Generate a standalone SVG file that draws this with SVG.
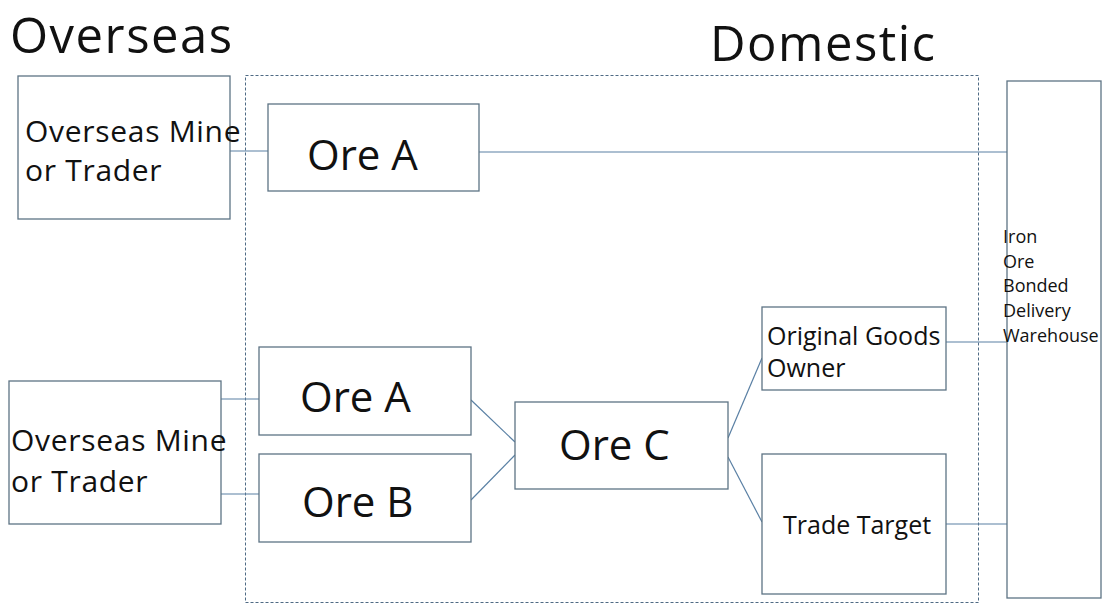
<svg xmlns="http://www.w3.org/2000/svg" width="1113" height="608" viewBox="0 0 1113 608">
  <style>
    .box { fill: #ffffff; stroke: #5d7384; stroke-width: 1.3; }
    .wire { fill: none; stroke: #5a80a4; stroke-width: 1.2; }
    .zone { fill: none; stroke: #4f6a84; stroke-width: 1; stroke-dasharray: 3 2; }
    text { font-family: "Open Sans", "Noto Sans", "DejaVu Sans", sans-serif; fill: #111111; }
    .title { font-size: 49px; letter-spacing: 1.5px; }
    .big { font-size: 42px; }
    .mid { font-size: 30px; letter-spacing: 0.7px; }
    .small { font-size: 25px; }
    .tiny { font-size: 18px; }
  </style>

  <rect width="1113" height="608" fill="#ffffff"/>

  <!-- section headings -->
  <text class="title" x="10" y="53">Overseas</text>
  <text class="title" x="710" y="61">Domestic</text>

  <!-- domestic area boundary -->
  <rect id="domestic-zone" class="zone" x="245.5" y="75.5" width="733" height="527"/>

  <!-- connectors -->
  <g id="connectors">
    <line class="wire" x1="230" y1="151" x2="268" y2="151"/>
    <line class="wire" x1="479" y1="152" x2="1007" y2="152"/>
    <line class="wire" x1="221" y1="399" x2="259" y2="399"/>
    <line class="wire" x1="221" y1="494" x2="259" y2="494"/>
    <line class="wire" x1="471" y1="400" x2="515" y2="442"/>
    <line class="wire" x1="471" y1="500" x2="515" y2="455"/>
    <line class="wire" x1="728" y1="438" x2="762" y2="358"/>
    <line class="wire" x1="728" y1="457" x2="762" y2="522"/>
    <line class="wire" x1="946" y1="342" x2="1007" y2="342"/>
    <line class="wire" x1="946" y1="524" x2="1007" y2="524"/>
  </g>

  <g id="mine-top">
    <rect class="box" x="18" y="76" width="212" height="143"/>
    <text class="mid" x="25" y="142">Overseas Mine</text>
    <text class="mid" x="25" y="181">or Trader</text>
  </g>

  <g id="ore-a-top">
    <rect class="box" x="268" y="104" width="211" height="87"/>
    <text class="big" x="307" y="170">Ore A</text>
  </g>

  <g id="mine-bottom">
    <rect class="box" x="9" y="381" width="212" height="143"/>
    <text class="mid" x="11" y="451">Overseas Mine</text>
    <text class="mid" x="11" y="492">or Trader</text>
  </g>

  <g id="ore-a-bottom">
    <rect class="box" x="259" y="347" width="212" height="88"/>
    <text class="big" x="300" y="412">Ore A</text>
  </g>

  <g id="ore-b">
    <rect class="box" x="259" y="454" width="212" height="88"/>
    <text class="big" x="302" y="517">Ore B</text>
  </g>

  <g id="ore-c">
    <rect class="box" x="515" y="402" width="213" height="87"/>
    <text class="big" x="559" y="460">Ore C</text>
  </g>

  <g id="original-owner">
    <rect class="box" x="762" y="307" width="184" height="83"/>
    <text class="small" x="767" y="345">Original Goods</text>
    <text class="small" x="767" y="377">Owner</text>
  </g>

  <g id="trade-target">
    <rect class="box" x="762" y="454" width="184" height="140"/>
    <text class="small" x="783" y="534">Trade Target</text>
  </g>

  <g id="warehouse">
    <rect class="box" x="1007" y="81" width="94" height="517"/>
    <text class="tiny" x="1003" y="243">Iron</text>
    <text class="tiny" x="1003" y="268">Ore</text>
    <text class="tiny" x="1003" y="292">Bonded</text>
    <text class="tiny" x="1003" y="317">Delivery</text>
    <text class="tiny" x="1003" y="342">Warehouse</text>
  </g>
</svg>
